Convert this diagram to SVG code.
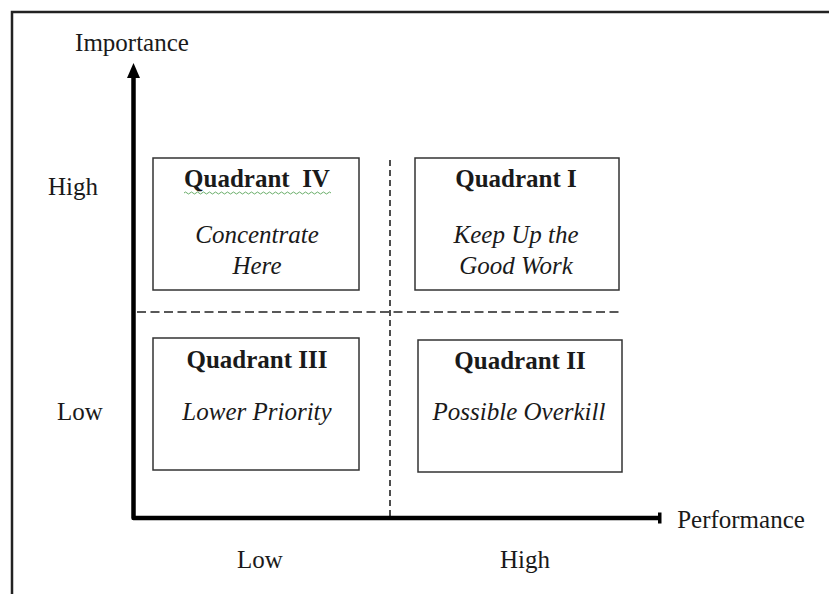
<svg xmlns="http://www.w3.org/2000/svg" width="829" height="594" viewBox="0 0 829 594">
<style>
text{font-family:"Liberation Serif","Times New Roman",serif;font-size:25px;fill:#1a1a1a}
.t{font-weight:bold;text-anchor:middle}
.i{font-style:italic;text-anchor:middle}
.m{text-anchor:middle}
.box{fill:#fff;stroke:#333;stroke-width:1.5}
.dash{fill:none;stroke:#222;stroke-width:1.6}
</style>
<rect width="829" height="594" fill="#fff"/>
<path d="M12,594 V12 H829" fill="none" stroke="#222" stroke-width="2.5"/>
<g id="connectors">
<line class="dash" x1="390" y1="160" x2="390" y2="516" stroke-dasharray="6,4"/>
<line class="dash" x1="137" y1="312" x2="620" y2="312" stroke-dasharray="9,4.5"/>
<path d="M133.5,74 V518 H660" fill="none" stroke="#000" stroke-width="4.5" stroke-linejoin="round"/>
<polygon points="127,78 133.5,63 140,78" fill="#000"/>
<rect x="658" y="512.5" width="3.5" height="11" fill="#000"/>
</g>
<g id="axis-labels">
<text x="132" y="51" class="m">Importance</text>
<text x="741" y="528" class="m">Performance</text>
<text x="73" y="195" class="m">High</text>
<text x="80" y="420" class="m">Low</text>
<text x="260" y="568" class="m">Low</text>
<text x="525" y="568" class="m">High</text>
</g>
<g id="q4">
<rect class="box" x="153" y="158" width="206" height="132"/>
<text x="257" y="187" class="t" xml:space="preserve">Quadrant  IV</text>
<path d="M184,193 q1.5,-2 3,0 t3,0 t3,0 t3,0 t3,0 t3,0 t3,0 t3,0 t3,0 t3,0 t3,0 t3,0 t3,0 t3,0 t3,0 t3,0 t3,0 t3,0 t3,0 t3,0 t3,0 t3,0 t3,0 t3,0 t3,0 t3,0 t3,0 t3,0 t3,0 t3,0 t3,0 t3,0 t3,0 t3,0 t3,0 t3,0 t3,0 t3,0 t3,0 t3,0 t3,0 t3,0 t3,0 t3,0 t3,0 t3,0 t3,0 t3,0 t3,0" fill="none" stroke="#5aa55a" stroke-width="0.9"/>
<text x="257" y="243" class="i">Concentrate</text>
<text x="257" y="274" class="i">Here</text>
</g>
<g id="q1">
<rect class="box" x="415" y="158" width="204" height="132"/>
<text x="516" y="187" class="t">Quadrant I</text>
<text x="516" y="243" class="i">Keep Up the</text>
<text x="516" y="274" class="i">Good Work</text>
</g>
<g id="q3">
<rect class="box" x="153" y="338" width="206" height="132"/>
<text x="257" y="368" class="t">Quadrant III</text>
<text x="257" y="420" class="i">Lower Priority</text>
</g>
<g id="q2">
<rect class="box" x="418" y="340" width="204" height="132"/>
<text x="520" y="369" class="t">Quadrant II</text>
<text x="519" y="420" class="i">Possible Overkill</text>
</g>
</svg>
